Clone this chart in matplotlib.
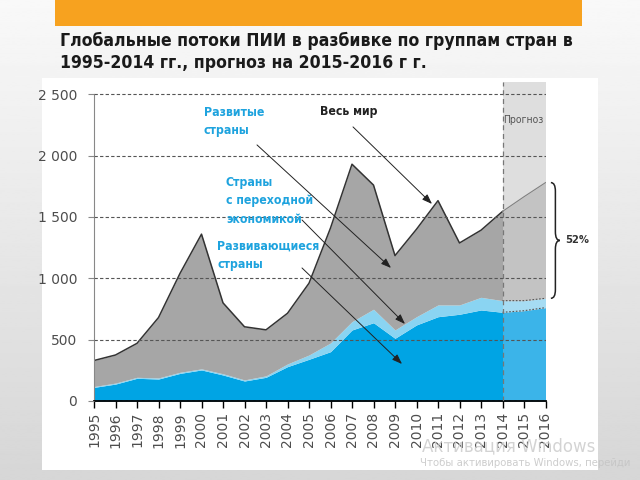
import numpy as np
import matplotlib
matplotlib.use("Agg")
import matplotlib.pyplot as plt
from matplotlib.patches import Rectangle, PathPatch
from matplotlib.path import Path

years = list(range(1995, 2017))
world = [330, 375, 470, 680, 1040, 1360, 800, 605, 580, 715, 960, 1410,
         1930, 1760, 1185, 1400, 1633, 1288, 1392, 1545, 1665, 1780]
developing = [111, 138, 185, 179, 225, 253, 212, 163, 193, 280, 340, 402,
              579, 638, 511, 620, 687, 707, 742, 723, 736, 761]
transition = [7, 8, 8, 9, 9, 9, 10, 9, 12, 22, 35, 71,
              68, 110, 68, 67, 96, 76, 103, 95, 82, 76]
forecast_start = 2014
share_label = "52%"

title = "Глобальные потоки ПИИ в разбивке по группам стран в\n1995-2014 гг., прогноз на 2015-2016 г г."

x = np.array(years)
w = np.array(world)
dev = np.array(developing)
dt = dev + np.array(transition)
hist = x <= forecast_start
fc = x >= forecast_start

fig = plt.figure(figsize=(6.4, 4.8), dpi=100)

# slide background
bg = fig.add_axes([0, 0, 1, 1], zorder=-10)
grad = np.linspace(0.975, 0.84, 256).reshape(-1, 1)
bg.imshow(grad, cmap="gray", vmin=0, vmax=1, aspect="auto", extent=[0, 1, 0, 1])
bg.axis("off")
fig.add_artist(Rectangle((42 / 640, 1 - 470 / 480), (598 - 42) / 640, (470 - 78) / 480,
                         transform=fig.transFigure, facecolor="white", edgecolor="none", zorder=-5))
fig.add_artist(Rectangle((55 / 640, 1 - 26 / 480), (582 - 55) / 640, 26 / 480,
                         transform=fig.transFigure, facecolor="#f7a21f", edgecolor="none", zorder=-5))
fig.text(60 / 640, 1 - 32 / 480, title, ha="left", va="top", fontsize=12.6, fontweight="bold",
         fontstretch="condensed", family="DejaVu Sans", color="#1a1a1a", linespacing=1.3)

ax = fig.add_axes([94 / 640, 1 - 401 / 480, (545.5 - 94) / 640, (401 - 82) / 480])
ax.patch.set_alpha(0)

ax.axvspan(forecast_start, years[-1], color="#dedede", zorder=0, lw=0)

# history
ax.fill_between(x[hist], 0, dev[hist], color="#00a4e4", lw=0, zorder=1)
ax.fill_between(x[hist], dev[hist], dt[hist], color="#8ad4f2", lw=0, zorder=1)
ax.fill_between(x[hist], dt[hist], w[hist], color="#a6a6a6", lw=0, zorder=1)
ax.plot(x[hist], w[hist], color="#333333", lw=1.1, zorder=2)

# forecast
ax.fill_between(x[fc], 0, dev[fc], color="#3bb4e9", lw=0, zorder=1)
ax.fill_between(x[fc], dev[fc], dt[fc], color="#a6dcf3", lw=0, zorder=1)
ax.fill_between(x[fc], dt[fc], w[fc], color="#c3c3c3", lw=0, zorder=1)
ax.plot(x[fc], w[fc], color="#808080", lw=0.8, zorder=2)
ax.plot(x[fc], dev[fc], color="#555555", lw=0.8, ls=(0, (1.5, 1.5)), zorder=2)
ax.plot(x[fc], dt[fc], color="#555555", lw=0.8, ls=(0, (1.5, 1.5)), zorder=2)
ax.axvline(forecast_start, color="#777777", lw=0.9, ls=(0, (4, 3)), zorder=3)

ax.set_xlim(years[0], years[-1])
ax.set_ylim(0, 2600)
ax.set_xticks(years)
ax.set_xticklabels([str(y) for y in years], rotation=90)
ax.set_yticks(range(0, 2501, 500))
ax.set_yticklabels([f"{v:,}".replace(",", " ") for v in range(0, 2501, 500)])
ax.grid(axis="y", color="#555555", lw=0.8, ls=(0, (3, 2)))
ax.set_axisbelow(False)
ax.tick_params(axis="x", colors="black", labelcolor="#4d4d4d", labelsize=10, length=5, width=1, pad=3)
ax.tick_params(axis="y", colors="#888888", labelcolor="#4d4d4d", labelsize=10, length=4, width=0.8, pad=8)
for s in ["top", "right"]:
    ax.spines[s].set_visible(False)
ax.spines["left"].set_bounds(0, 2500)
ax.spines["left"].set_color("#888888")
ax.spines["bottom"].set_color("black")
ax.spines["bottom"].set_linewidth(1.3)


def px(xp, yp):
    return 1995 + (xp - 94) / 21.5, (401 - yp) / 0.12265


blue = "#1ea3de"
lab_kw = dict(fontsize=8.8, fontweight="bold", fontstretch="condensed", ha="left", va="top",
              linespacing=1.55, zorder=6)
ax.text(*px(320, 105), "Весь мир", color="#222222", **lab_kw)
ax.text(*px(204, 106), "Развитые\nстраны", color=blue, **lab_kw)
ax.text(*px(226, 176), "Страны\nс переходной\nэкономикой", color=blue, **lab_kw)
ax.text(*px(217, 240), "Развивающиеся\nстраны", color=blue, **lab_kw)

arrows = [((353, 127), (432, 204)),
          ((257, 145), (391, 268)),
          ((302, 220), (405, 324)),
          ((302, 268), (402, 364))]
for start, tip in arrows:
    ax.annotate("", xy=px(*tip), xytext=px(*start),
                arrowprops=dict(arrowstyle="-|>,head_length=0.6,head_width=0.22",
                                color="#222222", lw=0.7, shrinkA=0, shrinkB=0), zorder=6)

ax.text(forecast_start + 0.05, 2290, "Прогноз", fontsize=7.5, fontstretch="condensed",
        color="#555555", ha="left", va="center", zorder=6)

# bracket for forecast share
top, bot = w[-1], dt[-1]
mid = (top + bot) / 2
x0, bw, d = years[-1] + 0.25, 0.42, 70
verts = [(x0, top), (x0 + bw / 2, top), (x0 + bw / 2, top - d),
         (x0 + bw / 2, mid + d),
         (x0 + bw / 2, mid), (x0 + bw, mid),
         (x0 + bw / 2, mid), (x0 + bw / 2, mid - d),
         (x0 + bw / 2, bot + d),
         (x0 + bw / 2, bot), (x0, bot)]
codes = [Path.MOVETO, Path.CURVE3, Path.CURVE3, Path.LINETO, Path.CURVE3, Path.CURVE3,
         Path.CURVE3, Path.CURVE3, Path.LINETO, Path.CURVE3, Path.CURVE3]
ax.add_patch(PathPatch(Path(verts, codes), facecolor="none", edgecolor="#222222", lw=1.1,
                       clip_on=False, transform=ax.transData))
ax.text(years[-1] + 0.9, mid, share_label, fontsize=8, fontweight="bold", fontstretch="condensed",
        color="#333333", ha="left", va="center")

# watermark
fig.text(422 / 640, 1 - 437 / 480, "Активация Windows", fontsize=12, color="#cccccc",
         ha="left", va="top", alpha=0.85)
fig.text(420 / 640, 1 - 458 / 480, "Чтобы активировать Windows, перейди", fontsize=7.3,
         color="#c4c4c4", ha="left", va="top", alpha=0.85)

fig.savefig("out.png", dpi=100)
